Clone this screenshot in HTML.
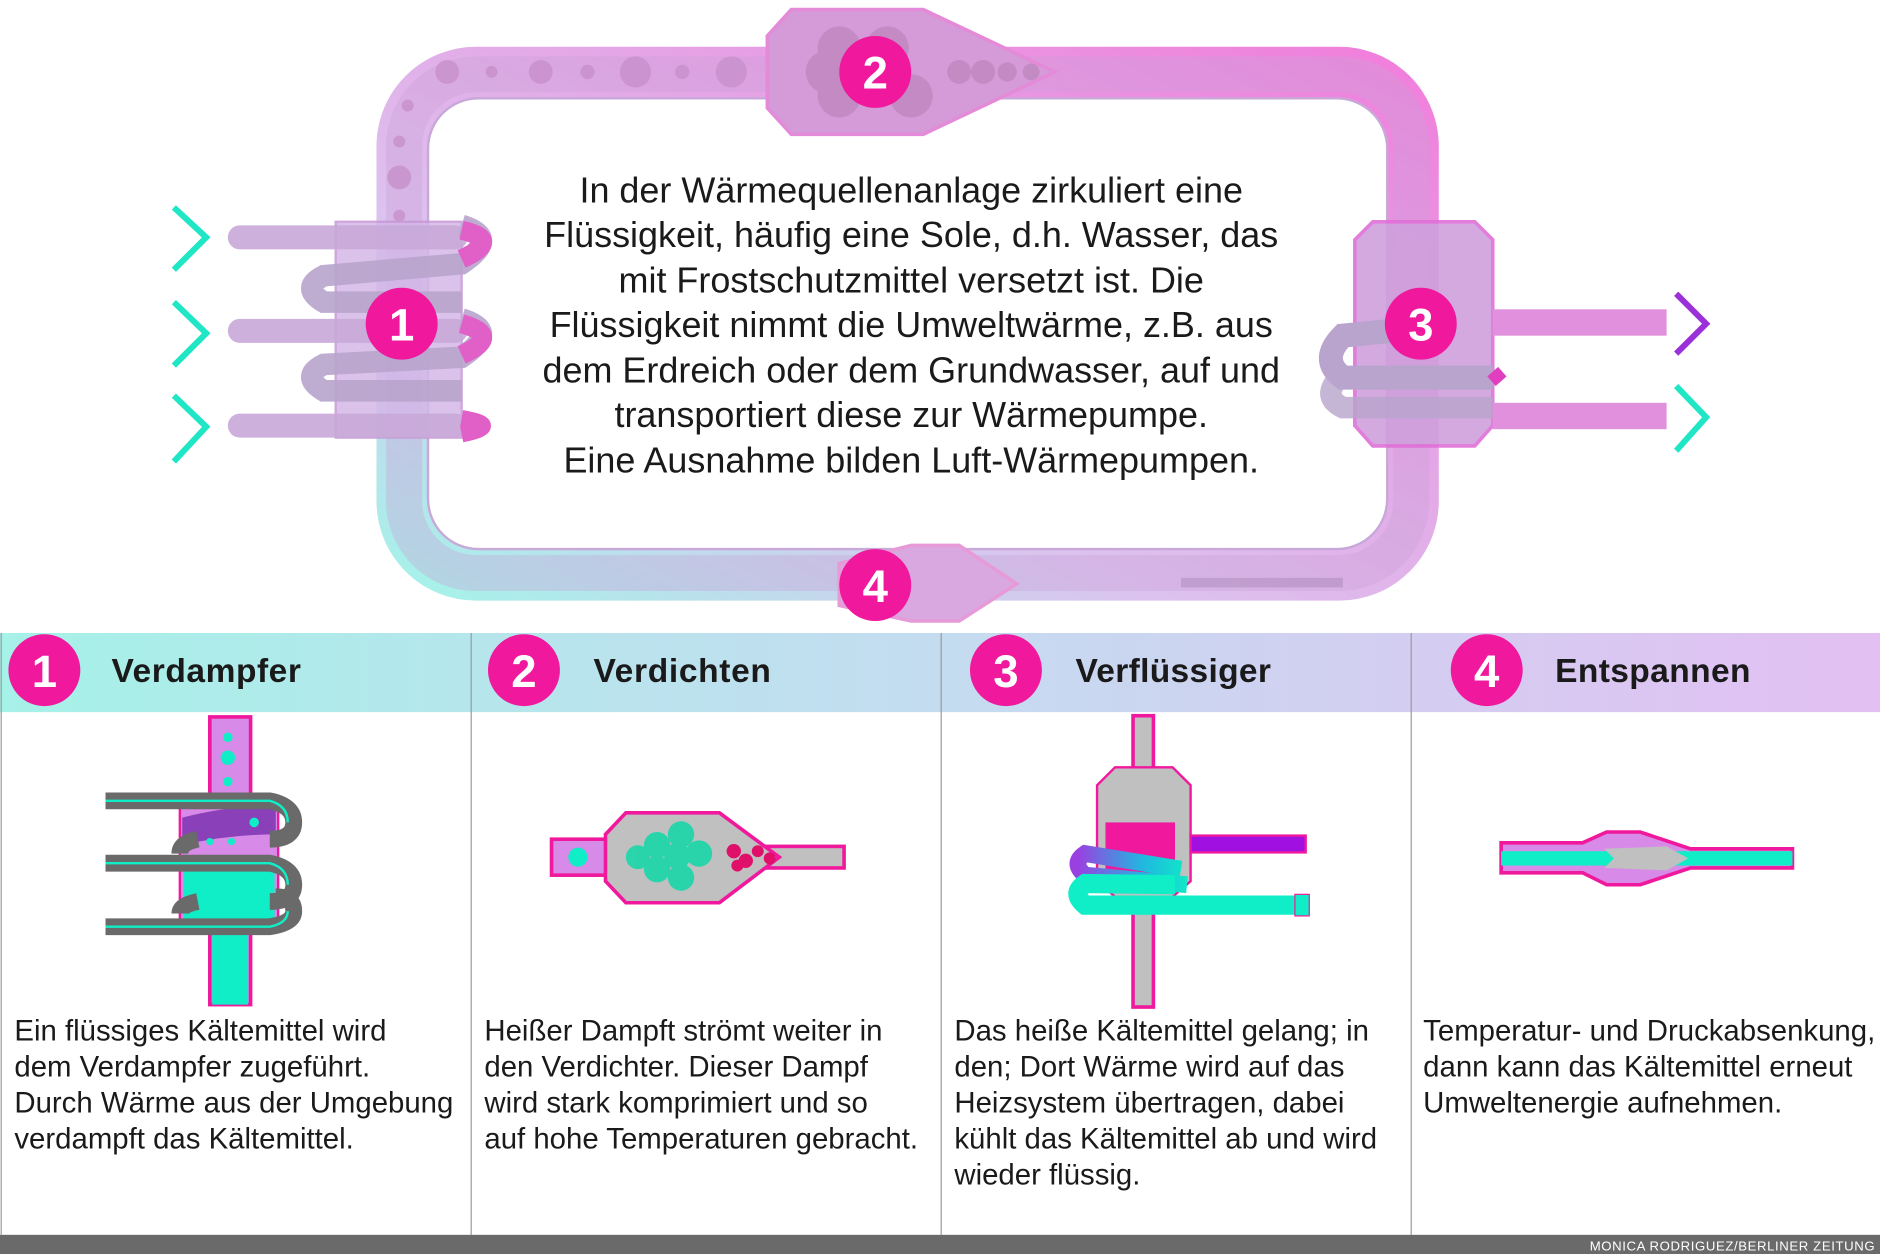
<!DOCTYPE html>
<html><head><meta charset="utf-8"><style>
html,body{margin:0;padding:0;background:#fff;width:1880px;height:1254px;overflow:hidden}
svg{display:block}
text{font-family:"Liberation Sans",sans-serif}
.h{font-family:"Liberation Sans Narrow","Liberation Sans",sans-serif;font-weight:bold;font-size:28px;fill:#1a1a1a}
.b{font-size:24.5px;fill:#1a1a1a}
.m{font-size:30px;fill:#1a1a1a}
.n{font-family:"Liberation Sans",sans-serif;font-weight:bold;fill:#fff;font-size:38px}
</style></head><body>
<svg width="1880" height="1254" viewBox="0 0 1568 1046" preserveAspectRatio="none" xmlns="http://www.w3.org/2000/svg">
<defs>
<linearGradient id="hg" x1="0" x2="1"><stop offset="0" stop-color="#a6f1e8"/><stop offset="0.5" stop-color="#c4dcf0"/><stop offset="1" stop-color="#e3bff2"/></linearGradient>
<linearGradient id="lg" x1="0" y1="1" x2="1" y2="0"><stop offset="0" stop-color="#a8f0ea"/><stop offset="0.35" stop-color="#dcc2ee"/><stop offset="1" stop-color="#f080dc"/></linearGradient>
<linearGradient id="cg" x1="0" x2="1"><stop offset="0" stop-color="#9a40e0"/><stop offset="0.6" stop-color="#20b8e0"/><stop offset="1" stop-color="#10e8c8"/></linearGradient>
</defs>
<rect x="337" y="62" width="840" height="416" rx="60" fill="none" stroke="url(#lg)" stroke-width="46"/>
<rect x="337" y="62" width="840" height="416" rx="60" fill="none" stroke="#c8a0d8" stroke-width="30" opacity="0.35"/>
<rect x="357" y="82" width="800" height="376" rx="42" fill="#fff" stroke="#c8a8d8" stroke-width="2"/>
<g fill="#c890cc" opacity="0.8">
<circle cx="373" cy="60" r="10"/><circle cx="410" cy="60" r="5"/><circle cx="451" cy="60" r="10"/><circle cx="490" cy="60" r="6"/><circle cx="530" cy="60" r="13"/><circle cx="569" cy="60" r="6"/><circle cx="610" cy="60" r="13"/>
<circle cx="340" cy="88" r="5"/><circle cx="333" cy="118" r="5"/><circle cx="333" cy="148" r="10"/><circle cx="333" cy="180" r="5"/>
</g>
<path d="M660 8 L770 8 L880 60 L770 112 L660 112 L640 90 L640 30 Z" fill="#d59ad8" stroke="#e38bd8" stroke-width="3"/>
<g fill="#b880b8" opacity="0.6"><circle cx="700" cy="40" r="18"/><circle cx="740" cy="40" r="18"/><circle cx="700" cy="80" r="18"/><circle cx="760" cy="80" r="18"/><circle cx="690" cy="60" r="18"/><circle cx="800" cy="60" r="10"/><circle cx="820" cy="60" r="10"/><circle cx="840" cy="60" r="8"/><circle cx="860" cy="60" r="7"/></g>
<path d="M700 470 L760 455 L800 455 L848 487 L800 518 L760 518 L700 505 Z" fill="#d9a8e0" stroke="#e69ad8" stroke-width="3"/>
<rect x="985" y="482" width="135" height="8" fill="#b090c0" opacity="0.6"/>
<rect x="280" y="185" width="105" height="180" fill="#d4b8e8" stroke="#c898d8" stroke-width="2" opacity="0.85"/>
<rect x="190" y="188" width="200" height="20" rx="10" fill="#c8a8d8" opacity="0.9"/>
<rect x="190" y="266" width="200" height="20" rx="10" fill="#c8a8d8" opacity="0.9"/>
<rect x="190" y="345" width="200" height="20" rx="10" fill="#c8a8d8" opacity="0.9"/>
<path d="M385 188 Q418 198 385 220 L270 230 Q250 240 270 252 L385 252" fill="none" stroke="#b8a4cc" stroke-width="18" opacity="0.9"/>
<path d="M385 266 Q418 276 385 298 L270 304 Q250 314 270 326 L385 326" fill="none" stroke="#b8a4cc" stroke-width="18" opacity="0.9"/>
<path d="M385 192 Q420 200 385 216" fill="none" stroke="#e060c8" stroke-width="16"/>
<path d="M385 270 Q420 280 385 296" fill="none" stroke="#e060c8" stroke-width="16"/>
<path d="M385 349 Q420 355 385 362" fill="none" stroke="#e060c8" stroke-width="14"/>
<g fill="none" stroke="#1fe6c4" stroke-width="5"><path d="M145 173 L172 198 L145 225"/><path d="M145 252 L172 278 L145 305"/><path d="M145 330 L172 356 L145 385"/></g>
<path d="M1145 185 L1230 185 L1245 200 L1245 355 L1230 372 L1145 372 L1130 355 L1130 200 Z" fill="#cfa0dc" stroke="#e070d8" stroke-width="3" opacity="0.9"/>
<rect x="1245" y="258" width="145" height="22" fill="#e090dc"/>
<rect x="1245" y="336" width="145" height="22" fill="#e090dc"/>
<path d="M1245 315 L1120 315 Q1100 300 1120 280 L1170 275" fill="none" stroke="#b8a4cc" stroke-width="20"/>
<path d="M1245 340 L1120 340 Q1100 330 1120 312" fill="none" stroke="#b8a4cc" stroke-width="18" opacity="0.8"/>
<path d="M1252 318 L1245 310" stroke="#e040c0" stroke-width="12"/>
<path d="M1398 245 L1423 270 L1398 295" fill="none" stroke="#9a30d8" stroke-width="5"/>
<path d="M1398 322 L1423 348 L1398 376" fill="none" stroke="#1fe6c4" stroke-width="5"/>
<g fill="#f0189c"><circle cx="730" cy="60" r="30"/><circle cx="335" cy="270" r="30"/><circle cx="1185" cy="270" r="30"/><circle cx="730" cy="488" r="30"/></g>
<g class="n" text-anchor="middle"><text x="730" y="74">2</text><text x="335" y="284">1</text><text x="1185" y="284">3</text><text x="730" y="502">4</text></g>
<g class="m" text-anchor="middle">
<text x="760" y="169">In der Wärmequellenanlage zirkuliert eine</text>
<text x="760" y="206">Flüssigkeit, häufig eine Sole, d.h. Wasser, das</text>
<text x="760" y="244">mit Frostschutzmittel versetzt ist. Die</text>
<text x="760" y="281">Flüssigkeit nimmt die Umweltwärme, z.B. aus</text>
<text x="760" y="319">dem Erdreich oder dem Grundwasser, auf und</text>
<text x="760" y="356">transportiert diese zur Wärmepumpe.</text>
<text x="760" y="394">Eine Ausnahme bilden Luft-Wärmepumpen.</text>
</g>
<rect x="0" y="528" width="1568" height="66" fill="url(#hg)"/>
<g stroke="#9a9a9a" stroke-width="1"><line x1="1" y1="528" x2="1" y2="1030"/><line x1="393" y1="528" x2="393" y2="1030"/><line x1="785" y1="528" x2="785" y2="1030"/><line x1="1177" y1="528" x2="1177" y2="1030"/></g>
<g fill="#f0189c"><circle cx="37" cy="559" r="30"/><circle cx="437" cy="559" r="30"/><circle cx="839" cy="559" r="30"/><circle cx="1240" cy="559" r="30"/></g>
<g class="n" text-anchor="middle"><text x="37" y="573">1</text><text x="437" y="573">2</text><text x="839" y="573">3</text><text x="1240" y="573">4</text></g>
<text class="h" x="93" y="569" textLength="158">Verdampfer</text>
<text class="h" x="495" y="569" textLength="148">Verdichten</text>
<text class="h" x="897" y="569" textLength="163">Verflüssiger</text>
<text class="h" x="1297" y="569" textLength="163">Entspannen</text>
<rect x="175" y="598" width="34" height="240" fill="#d88ae8" stroke="#f0189c" stroke-width="3"/>
<rect x="177" y="740" width="30" height="98" fill="#10eec8"/>
<rect x="150" y="672" width="82" height="98" fill="#d88ae8" stroke="#f0189c" stroke-width="2"/>
<rect x="153" y="718" width="76" height="50" fill="#10eec8"/>
<path d="M152 682 Q190 672 230 672 L230 696 Q190 696 152 705 Z" fill="#8a40b8"/>
<g fill="#10eec8"><circle cx="190" cy="615" r="4"/><circle cx="190" cy="632" r="6"/><circle cx="190" cy="652" r="4"/><circle cx="212" cy="686" r="4"/><circle cx="175" cy="702" r="3"/><circle cx="193" cy="702" r="3"/></g>
<g fill="none" stroke="#6a6a6a" stroke-width="14"><path d="M88 668 L225 668 Q245 672 245 686 Q245 700 225 700"/><path d="M88 720 L225 720 Q245 724 245 738 Q245 752 225 752"/><path d="M88 773 L225 773 Q245 770 245 760 Q245 748 230 748"/><path d="M165 700 Q150 703 150 712"/><path d="M165 752 Q150 755 150 762"/></g>
<g fill="none" stroke="#10eec8" stroke-width="2"><path d="M88 668 L225 668 Q240 672 240 686"/><path d="M88 720 L225 720 Q240 724 240 738"/><path d="M88 773 L225 773 Q240 770 240 760"/></g>
<rect x="460" y="700" width="48" height="30" fill="#d88ae8" stroke="#f0189c" stroke-width="3"/>
<circle cx="482" cy="715" r="8" fill="#10eec8"/>
<rect x="630" y="706" width="74" height="18" fill="#c0c0c0" stroke="#f0189c" stroke-width="3"/>
<path d="M522 678 L600 678 L650 715 L600 753 L522 753 L505 735 L505 696 Z" fill="#c0c0c0" stroke="#f0189c" stroke-width="3"/>
<g fill="#10d8a8" opacity="0.85"><circle cx="548" cy="705" r="11"/><circle cx="568" cy="696" r="11"/><circle cx="583" cy="712" r="11"/><circle cx="548" cy="725" r="11"/><circle cx="568" cy="732" r="11"/><circle cx="565" cy="714" r="11"/><circle cx="532" cy="715" r="10"/></g>
<g fill="#e0106a"><circle cx="612" cy="710" r="6"/><circle cx="622" cy="718" r="6"/><circle cx="632" cy="710" r="5"/><circle cx="642" cy="716" r="5"/><circle cx="615" cy="722" r="5"/></g>
<rect x="945" y="597" width="17" height="243" fill="#c0c0c0" stroke="#f0189c" stroke-width="3"/>
<path d="M930 640 L978 640 L993 655 L993 735 L978 748 L930 748 L915 735 L915 655 Z" fill="#c0c0c0" stroke="#f0189c" stroke-width="2"/>
<rect x="922" y="686" width="58" height="56" fill="#f0189c"/>
<rect x="993" y="697" width="96" height="14" fill="#a010e0" stroke="#f0189c" stroke-width="2"/>
<path d="M985 725 L905 712 Q893 720 905 730 L990 738" fill="none" stroke="url(#cg)" stroke-width="14"/>
<path d="M1090 755 L905 755 Q893 745 905 737 L980 738" fill="none" stroke="#10eec8" stroke-width="16"/>
<rect x="1080" y="746" width="12" height="18" fill="#10eec8" stroke="#f0189c" stroke-width="1"/>
<path d="M1252 703 L1320 703 L1340 694 L1368 694 L1410 708 L1495 708 L1495 724 L1410 724 L1368 738 L1340 738 L1320 728 L1252 728 Z" fill="#d88ae8" stroke="#f0189c" stroke-width="3"/>
<rect x="1252" y="710" width="243" height="12" fill="#10eec8"/>
<path d="M1338 708 L1390 706 L1408 716 L1390 726 L1338 724 L1346 716 Z" fill="#c0c0c0"/>
<g class="b">
<text x="12" y="868">Ein flüssiges Kältemittel wird</text>
<text x="12" y="898">dem Verdampfer zugeführt.</text>
<text x="12" y="928">Durch Wärme aus der Umgebung</text>
<text x="12" y="958">verdampft das Kältemittel.</text>
<text x="404" y="868">Heißer Dampft strömt weiter in</text>
<text x="404" y="898">den Verdichter. Dieser Dampf</text>
<text x="404" y="928">wird stark komprimiert und so</text>
<text x="404" y="958">auf hohe Temperaturen gebracht.</text>
<text x="796" y="868">Das heiße Kältemittel gelang; in</text>
<text x="796" y="898">den; Dort Wärme wird auf das</text>
<text x="796" y="928">Heizsystem übertragen, dabei</text>
<text x="796" y="958">kühlt das Kältemittel ab und wird</text>
<text x="796" y="988">wieder flüssig.</text>
<text x="1187" y="868">Temperatur- und Druckabsenkung,</text>
<text x="1187" y="898">dann kann das Kältemittel erneut</text>
<text x="1187" y="928">Umweltenergie aufnehmen.</text>
</g>
<rect x="0" y="1030" width="1568" height="16" fill="#6a6a6a"/>
<text x="1564" y="1043" text-anchor="end" style="font-size:11px;fill:#fff;font-family:'Liberation Sans Narrow','Liberation Sans',sans-serif;letter-spacing:0.5px">MONICA RODRIGUEZ/BERLINER ZEITUNG</text>
</svg>
</body></html>
